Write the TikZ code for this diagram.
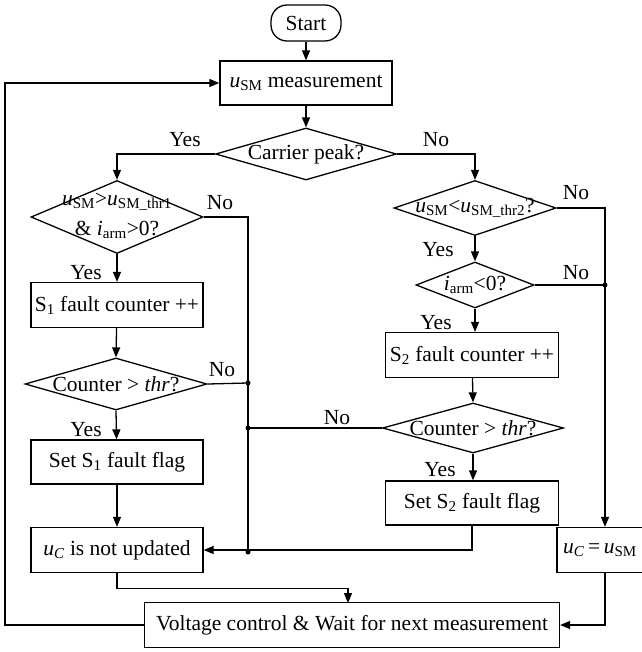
\documentclass[tikz,border=0pt]{standalone}
\usepackage{fontspec}
\setmainfont{Liberation Serif}
\usetikzlibrary{shapes.geometric,arrows.meta}
\begin{document}
\begin{tikzpicture}[x=1pt,y=-1pt,
  every node/.style={font=\fontsize{21.5}{26}\selectfont},
  box/.style={draw,line width=1.3pt,rectangle,inner sep=0pt,minimum height=45pt},
  dia/.style={draw,line width=1.3pt,diamond,inner sep=0pt,aspect=3},
  lab/.style={inner sep=0pt},
  line/.style={line width=1.3pt},
  arr/.style={line width=1.3pt,-{Triangle[length=10pt,width=8pt]}},
  dot/.style={circle,fill,inner sep=0pt,minimum size=5pt}]
\useasboundingbox (0,0) rectangle (641,652);
% nodes
\node[draw,line width=1.3pt,rounded corners=16pt,minimum width=70pt,minimum height=36pt,inner sep=0pt] (start) at (306,23) {Start};
\node[box,minimum width=172pt,minimum height=44pt] (meas) at (306,83) {\textit{u}\textsubscript{SM} measurement};
\node[dia,minimum width=181pt,minimum height=52pt] (cp) at (306,154) {};
\node[lab] (cpt) at (cp) {Carrier peak?};
% left branch
\node[dia,minimum width=172pt,minimum height=73pt] (d1) at (117,217) {};
\node[lab,align=center,font=\fontsize{21.5}{30}\selectfont] (d1t) at (117,216) {\textit{u}\textsubscript{SM}>\textit{u}\textsubscript{SM\_thr1}\\\& \textit{i}\textsubscript{arm}>0?};
\node[box,minimum width=172pt] (s1c) at (117,305) {S\textsubscript{1} fault counter ++};
\node[dia,minimum width=182pt,minimum height=52pt] (c1) at (116,384) {};
\node[lab] (c1t) at (c1) {Counter > \textit{thr}?};
\node[box,minimum width=172pt,minimum height=44pt] (s1f) at (117,462) {Set S\textsubscript{1} fault flag};
\node[box,minimum width=172pt] (ucn) at (117,550) {\textit{u\textsubscript{C}} is not updated};
% right branch
\node[dia,minimum width=162pt,minimum height=55pt] (d2) at (475,208) {};
\node[lab] (d2t) at (d2) {\textit{u}\textsubscript{SM}<\textit{u}\textsubscript{SM\_thr2}?};
\node[dia,minimum width=118pt,minimum height=46pt] (d3) at (475,285) {};
\node[lab] (d3t) at (d3) {\textit{i}\textsubscript{arm}<0?};
\node[box,minimum width=173pt] (s2c) at (472,355) {S\textsubscript{2} fault counter ++};
\node[dia,minimum width=181pt,minimum height=50pt] (c2) at (473,428) {};
\node[lab] (c2t) at (c2) {Counter > \textit{thr}?};
\node[box,minimum width=173pt,minimum height=44pt] (s2f) at (472,503) {Set S\textsubscript{2} fault flag};
\node[box,minimum width=96pt] (ucu) at (605,550) {};
\node[lab] (ucut) at (600,550) {\textit{u\textsubscript{C}}\,=\,\textit{u}\textsubscript{SM}};
\node[box,minimum width=415pt] (volt) at (352,625) {Voltage control \& Wait for next measurement};
% helper coordinates
\coordinate (jl1) at (248,383);
\coordinate (jl2) at (248,428);
\coordinate (jl3) at (248,552);
\coordinate (jr1) at (605,285);
\coordinate (vin) at (348,603);
% connectors
\draw[arr] (start) -- (meas);
\draw[arr] (meas) -- (cp.north);
\draw[arr] (cp.west) -| (d1.north);
\draw[arr] (cp.east) -| (d2.north);
\draw[arr] (d1.south) -- (s1c);
\draw[arr] (s1c) -- (c1.north);
\draw[arr] (c1.south) -- (s1f);
\draw[arr] (s1f) -- (ucn);
\draw[line] (d1.east) -| (jl3);
\draw[line] (c1.east) -- (jl1);
\draw[line] (c2.west) -- (jl2);
\draw[arr] (s2f.south) |- (ucn.east);
\draw[arr] (d2.south) -- (d3.north);
\draw[arr] (d3.south) -- (s2c.north -| d3.south);
\draw[arr] (s2c) -- (c2.north);
\draw[arr] (c2.south) -- (s2f.north -| c2.south);
\draw[arr] (d2.east) -| (ucu.north);
\draw[line] (d3.east) -- (jr1);
\draw[arr] (ucn.south) |- ++(0,15) -| (vin);
\draw[arr] (ucu.south) |- (volt.east);
\draw[arr] (volt.west) -- ++(-139,0) |- (meas.west);
% dots
\node[dot] (p1) at (jl1) {};
\node[dot] (p2) at (jl2) {};
\node[dot] (p3) at (jl3) {};
\node[dot] (p4) at (jr1) {};
% labels
\node[lab] (y0) at (185,140) {Yes};
\node[lab] (n0) at (436,140) {No};
\node[lab] (n1) at (220,203) {No};
\node[lab] (y1) at (86,273) {Yes};
\node[lab] (n2) at (222,370) {No};
\node[lab] (y2) at (86,430) {Yes};
\node[lab] (n3) at (576,193) {No};
\node[lab] (y3) at (438,250) {Yes};
\node[lab] (n4) at (576,273) {No};
\node[lab] (y4) at (436,323) {Yes};
\node[lab] (n5) at (337,418) {No};
\node[lab] (y5) at (440,470) {Yes};
\end{tikzpicture}
\end{document}
